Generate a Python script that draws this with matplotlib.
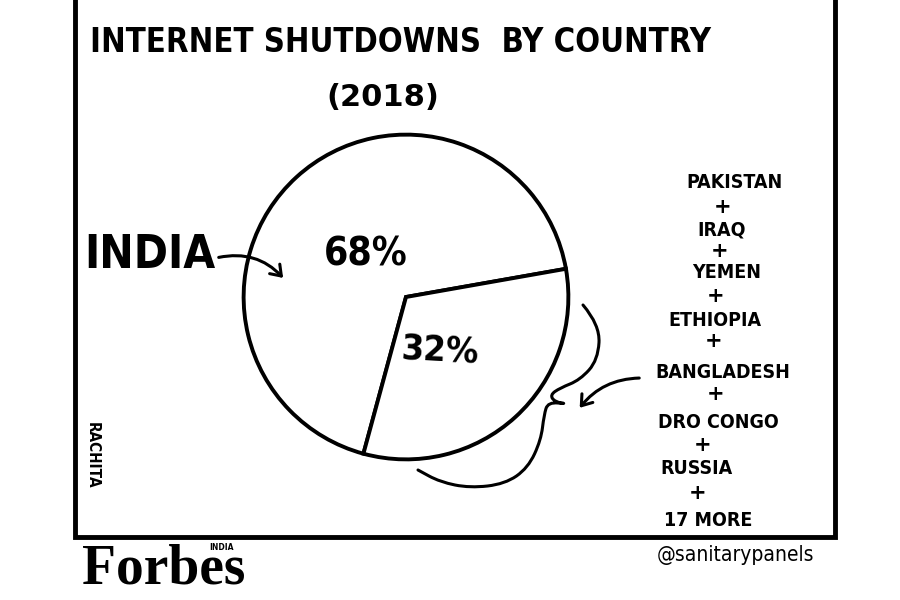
import matplotlib
matplotlib.use('Agg')
import matplotlib.pyplot as plt
from matplotlib.patches import FancyArrowPatch, PathPatch
from matplotlib.path import Path

plt.rcParams['font.family'] = ['DejaVu Sans']

title = 'INTERNET SHUTDOWNS  BY COUNTRY'
subtitle = '(2018)'
shares = [68, 32]
share_labels = ['68%', '32%']
big_label = 'INDIA'
others = ['PAKISTAN', 'IRAQ', 'YEMEN', 'ETHIOPIA', 'BANGLADESH',
          'DRO CONGO', 'RUSSIA', '17 MORE']
credit = '@sanitarypanels'
artist = 'RACHITA'


def smooth_path(pts):
    # quadratic curve through the midpoints of a hand-drawn stroke
    verts = [pts[0]]
    codes = [Path.MOVETO]
    for i in range(1, len(pts) - 1):
        mx = (pts[i][0] + pts[i + 1][0]) / 2
        my = (pts[i][1] + pts[i + 1][1]) / 2
        verts += [pts[i], (mx, my)]
        codes += [Path.CURVE3, Path.CURVE3]
    verts.append(pts[-1])
    codes.append(Path.LINETO)
    return Path(verts, codes)


fig = plt.figure(figsize=(9, 6), dpi=100)
fig.patch.set_facecolor('white')

# pie first so the lettering layer sits on top
cx, cy, r = 406, 297, 164
pax = fig.add_axes([(cx - r) / 900, 1 - (cy + r) / 600, 2 * r / 900, 2 * r / 600])
pax.pie(shares, startangle=10, counterclock=True, colors=['white', 'white'],
        wedgeprops=dict(edgecolor='black', linewidth=2.8))
pax.set_xlim(-1.01, 1.01)
pax.set_ylim(-1.01, 1.01)
pax.set_aspect('equal')
pax.axis('off')

pax.text(-0.25, 0.26, share_labels[0], fontsize=28, ha='center', va='center',
         fontstretch='condensed', fontweight='bold')
pax.text(0.21, -0.33, share_labels[1], fontsize=26, ha='center', va='center',
         fontstretch='condensed', fontweight='bold', rotation=-3)

# overlay in pixel coords for the lettering
ov = fig.add_axes([0, 0, 1, 1])
ov.set_xlim(0, 900)
ov.set_ylim(600, 0)
ov.axis('off')

# frame
ov.plot([75, 75, 835, 835], [-5, 537, 537, -5], color='black', lw=3.5,
        solid_joinstyle='miter')

ov.text(400, 42, title, fontsize=23.5, ha='center', va='center',
        fontstretch='condensed', fontweight='bold')
ov.text(383, 97, subtitle, fontsize=22, ha='center', va='center',
        fontweight='bold')

ov.text(150, 256, big_label, fontsize=33, ha='center', va='center',
        fontstretch='condensed', fontweight='bold')
ov.add_patch(FancyArrowPatch((216, 258), (285, 280),
                             connectionstyle='arc3,rad=-0.3',
                             arrowstyle='->,head_length=7,head_width=5',
                             lw=2.2, color='black'))

# list of the other countries
ys = [183, 230, 272, 320, 372, 422, 468, 520]
xs = [734, 722, 727, 715, 723, 718, 697, 708]
plus_y = [207, 251, 296, 341, 394, 445, 493]
for i, name in enumerate(others):
    ov.text(xs[i], ys[i], name, fontsize=14, ha='center', va='center',
            fontstretch='condensed', fontweight='bold')
    if i < len(others) - 1:
        ov.text((xs[i] + xs[i + 1]) / 2 - 5, plus_y[i], '+',
                fontsize=15, ha='center', va='center', fontweight='bold')

# brace around the 32% slice
brace = [(583, 305), (600, 325), (598, 360), (580, 380), (560, 388),
         (550, 395), (555, 402), (568, 404), (548, 402), (544, 415),
         (541, 440), (528, 468), (505, 484), (470, 488), (440, 482),
         (418, 470)]
ov.add_patch(PathPatch(smooth_path(brace), fill=False, lw=2.2,
                       edgecolor='black', capstyle='round',
                       joinstyle='round'))
ov.add_patch(FancyArrowPatch((642, 378), (578, 410),
                             connectionstyle='arc3,rad=0.25',
                             arrowstyle='->,head_length=7,head_width=5',
                             lw=2.2, color='black'))

ov.text(92, 455, artist, fontsize=11, rotation=-90, ha='center', va='center',
        fontstretch='condensed', fontweight='bold')

# logo and credit
ov.text(82, 570, 'Forbes', fontsize=40, family='Liberation Serif',
        fontweight='bold', ha='left', va='center', fontstretch='condensed')
ov.text(222, 548, 'INDIA', fontsize=5.5, ha='center', va='center',
        fontweight='bold')
ov.text(735, 555, credit, fontsize=15, ha='center', va='center',
        fontstretch='condensed')

fig.savefig('out.png', dpi=100, facecolor='white')
plt.close(fig)
